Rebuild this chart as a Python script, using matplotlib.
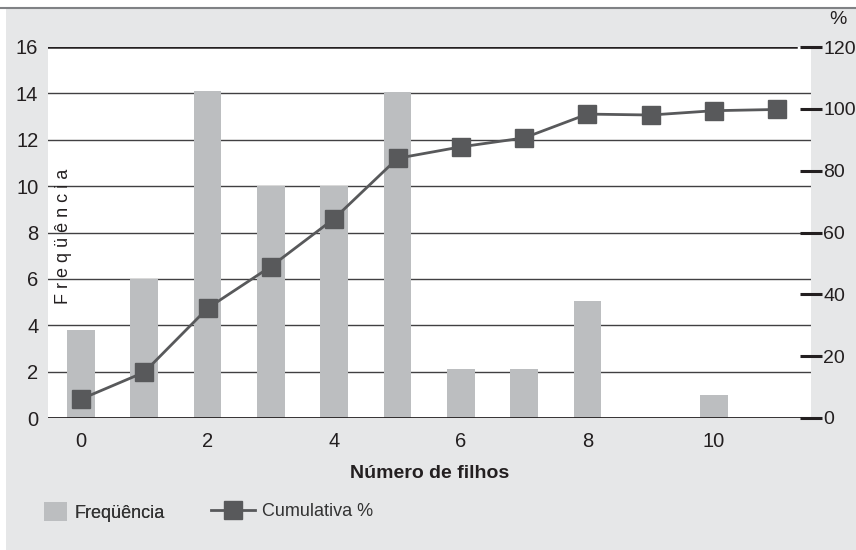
import matplotlib
matplotlib.use('Agg')
import matplotlib.pyplot as plt
from matplotlib.patches import Patch, Rectangle
from matplotlib.lines import Line2D

### Data
filhos      = [0, 1, 2, 3, 4, 5, 6, 7, 8, 9, 10, 11]
frequencia  = [3.8, 6, 14.1, 10, 10, 14.05, 2.1, 2.1, 5.05, 0, 1, 0]
cumulativa  = [6.1, 14.8, 35.5, 49, 64.5, 84, 87.7, 90.6, 98.3, 98.0, 99.4, 99.8]
xticks      = [0, 2, 4, 6, 8, 10]
yticks_left = [0, 2, 4, 6, 8, 10, 12, 14, 16]
yticks_right = [0, 20, 40, 60, 80, 100, 120]

### Style
bg_gray   = '#e6e7e8'
bar_gray  = '#bcbec0'
dark_gray = '#58595b'
txt_color = '#231f20'
plt.rcParams['font.family'] = ['Liberation Sans', 'DejaVu Sans']

W, H = 856, 550
fig = plt.figure(figsize=(W / 100, H / 100), dpi=100, facecolor=bg_gray)

# white margins and the top border line
fig.add_artist(Rectangle((0, 1 - 7 / H), 1, 7 / H, transform=fig.transFigure,
                         facecolor='white', edgecolor='none', zorder=0))
fig.add_artist(Rectangle((0, 0), 6 / W, 1, transform=fig.transFigure,
                         facecolor='white', edgecolor='none', zorder=0))
fig.add_artist(Line2D([0, 1], [1 - 7.5 / H, 1 - 7.5 / H], transform=fig.transFigure,
                      color='#808285', lw=1.5))

left, right = 48 / W, 811 / W
bottom, top = 1 - 418 / H, 1 - 47 / H
ax = fig.add_axes([left, bottom, right - left, top - bottom])
ax.set_facecolor('white')

### Bars
ax.bar(filhos, frequencia, width=0.44, color=bar_gray, zorder=2)

ax.set_xlim(-0.52, 11.53)
ax.set_ylim(0, 16)
for s in ax.spines.values():
	s.set_visible(False)

# gridlines behind the bars
for yv in yticks_left[1:-1]:
	ax.axhline(yv, color='#414042', lw=1.0, zorder=1)
ax.axhline(16, color='#231f20', lw=1.8, zorder=1, xmax=0.98)
ax.axhline(0, color='#231f20', lw=2.0, zorder=3)

ax.set_yticks(yticks_left)
ax.set_xticks(xticks)
ax.tick_params(axis='y', length=0, pad=7, labelsize=14.5, labelcolor=txt_color)
ax.tick_params(axis='x', length=0, pad=10, labelsize=14.5, labelcolor=txt_color)

### Cumulative line on the right axis
ax2 = ax.twinx()
ax2.patch.set_visible(False)
ax2.plot(filhos, cumulativa, color=dark_gray, lw=2, marker='s',
         markersize=13.5, markerfacecolor=dark_gray, markeredgecolor=dark_gray,
         zorder=4)
ax2.set_ylim(0, 120)
ax2.set_yticks(yticks_right)
for s in ax2.spines.values():
	s.set_visible(False)
ax2.tick_params(axis='y', direction='inout', length=16, width=2.2, color='#231f20',
                pad=1, labelsize=14, labelcolor=txt_color)

fig.text(838 / W, 1 - 20 / H, '%', fontsize=14, color=txt_color,
         ha='center', va='center')

### Axis titles
ax.text(0.02, 0.49, 'F r e q ü ê n c i a', transform=ax.transAxes, rotation=90,
        fontsize=13, color=txt_color, ha='center', va='center')
fig.text(430 / W, 1 - 473 / H, 'Número de filhos', fontsize=14, fontweight='bold',
         color=txt_color, ha='center', va='center')

### Legend
leg1 = fig.legend([Patch(facecolor=bar_gray, edgecolor='none')], ['Freqüência'],
                  loc='center left', bbox_to_anchor=(44 / W, 1 - 512 / H),
                  frameon=False, borderpad=0, borderaxespad=0, fontsize=13,
                  handlelength=1.28, handleheight=1.22, handletextpad=0.39,
                  labelcolor='#333333')
leg2 = fig.legend([Line2D([], [], color=dark_gray, lw=2, marker='s', markersize=13)],
                  ['Cumulativa %'],
                  loc='center left', bbox_to_anchor=(211 / W, 1 - 512 / H),
                  frameon=False, borderpad=0, borderaxespad=0, fontsize=13,
                  handlelength=2.45, handletextpad=0.39, labelcolor='#333333')
fig.add_artist(leg1)

fig.savefig('out.png', dpi=100, facecolor=bg_gray)
